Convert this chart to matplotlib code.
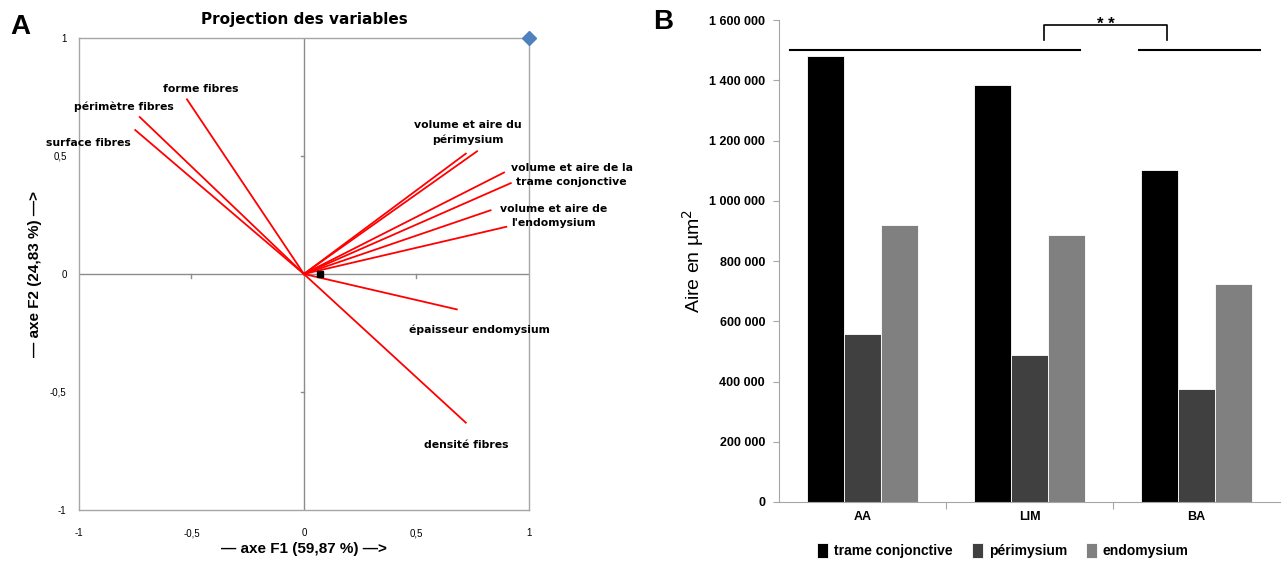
import matplotlib
matplotlib.use("Agg")
import matplotlib.pyplot as plt

# ---------------- Data : panel A (PCA correlation circle) ----------------
var_labels = ["forme fibres", "périmètre fibres", "surface fibres",
              "périmysium a", "périmysium b",
              "trame a", "trame b",
              "endomysium a", "endomysium b",
              "épaisseur endomysium", "densité fibres"]
var_f1 = [-0.52, -0.73, -0.75, 0.72, 0.77, 0.89, 0.92, 0.83, 0.90, 0.68, 0.72]
var_f2 = [0.74, 0.665, 0.61, 0.51, 0.52, 0.43, 0.385, 0.27, 0.20, -0.15, -0.63]
obs_point = (0.07, 0.0)
corner_point = (1.0, 1.0)
ticks_a = [-1, -0.5, 0, 0.5, 1]
tick_labels_a = ["-1", "-0,5", "0", "0,5", "1"]

# ---------------- Data : panel B (bar chart) ----------------
groups = ["AA", "LIM", "BA"]
series_names = ["trame conjonctive", "périmysium", "endomysium"]
trame = [1480000, 1385000, 1102000]
perimysium = [557000, 488000, 375000]
endomysium = [920000, 886000, 724000]
yticks_b = [0, 200000, 400000, 600000, 800000, 1000000, 1200000, 1400000, 1600000]
ytick_labels_b = ["0", "200 000", "400 000", "600 000", "800 000",
                  "1 000 000", "1 200 000", "1 400 000", "1 600 000"]

NARROW = ["Liberation Sans Narrow", "Liberation Sans", "DejaVu Sans"]
ARIAL = ["Liberation Sans", "DejaVu Sans"]
WIDE = ["DejaVu Sans"]

fig = plt.figure(figsize=(12.85, 5.61), dpi=100)

# =============== Panel A ===============
axA = fig.add_axes([0.0615, 0.0909, 0.350, 0.8414])
axA.set_xlim(-1, 1)
axA.set_ylim(-1, 1)
for s in axA.spines.values():
    s.set_color("#a6a6a6")
    s.set_linewidth(1.0)
axA.axhline(0, color="#8c8c8c", lw=1.0, zorder=1)
axA.axvline(0, color="#8c8c8c", lw=1.0, zorder=1)
for t in [-0.5, 0.5]:
    axA.plot([t, t], [0, -0.015], color="#8c8c8c", lw=1.0, zorder=1)
    axA.plot([0, -0.012], [t, t], color="#8c8c8c", lw=1.0, zorder=1)
axA.set_xticks(ticks_a)
axA.set_xticklabels(tick_labels_a)
axA.set_yticks(ticks_a)
axA.set_yticklabels(tick_labels_a)
axA.tick_params(length=0, labelsize=7)
axA.tick_params(axis="y", pad=9)
axA.tick_params(axis="x", pad=13)
for lab in axA.get_xticklabels() + axA.get_yticklabels():
    lab.set_family(NARROW)

for fx, fy in zip(var_f1, var_f2):
    axA.plot([0, fx], [0, fy], color="#ff0000", lw=1.3, zorder=3)
axA.plot([obs_point[0]], [obs_point[1]], marker="s", ms=5, color="black", zorder=4)
axA.plot([corner_point[0]], [corner_point[1]], marker="D", ms=7, color="#4f81bd",
         zorder=5, clip_on=False)

lab_kw = dict(fontsize=7.8, fontweight="bold", color="black", family=WIDE)
axA.text(-0.46, 0.785, "forme fibres", ha="center", va="center", **lab_kw)
axA.text(-0.80, 0.71, "périmètre fibres", ha="center", va="center", **lab_kw)
axA.text(-0.96, 0.555, "surface fibres", ha="center", va="center", **lab_kw)
axA.text(0.73, 0.60, "volume et aire du\npérimysium", ha="center", va="center",
         linespacing=1.45, **lab_kw)
axA.text(1.19, 0.42, "volume et aire de la\ntrame conjonctive", ha="center", va="center",
         linespacing=1.45, **lab_kw)
axA.text(1.11, 0.245, "volume et aire de\nl'endomysium", ha="center", va="center",
         linespacing=1.45, **lab_kw)
axA.text(0.78, -0.235, "épaisseur endomysium", ha="center", va="center", **lab_kw)
axA.text(0.72, -0.725, "densité fibres", ha="center", va="center", **lab_kw)

axA.set_title("Projection des variables", fontsize=11, fontweight="bold",
              family=WIDE, pad=10)
axA.set_ylabel("— axe F2 (24,83 %) —>", fontsize=11, fontweight="bold",
               family=ARIAL, labelpad=6)
axA.set_xlabel("— axe F1 (59,87 %) —>", fontsize=11, fontweight="bold",
               family=ARIAL, labelpad=3)
fig.text(0.008, 0.952, "A", fontsize=20, fontweight="bold", family=ARIAL,
         ha="left", va="center")

# =============== Panel B ===============
axB = fig.add_axes([0.6062, 0.1052, 0.390, 0.859])
axB.set_xlim(-0.5, 2.5)
axB.set_ylim(0, 1600000)
width = 0.222
colors = ["#000000", "#404040", "#808080"]
xs = list(range(len(groups)))
for i, (vals, col, name) in enumerate(zip([trame, perimysium, endomysium], colors, series_names)):
    axB.bar([x + (i - 1) * width for x in xs], vals, width=width, color=col,
            edgecolor="white", linewidth=0.6, label=name, zorder=2)

for side in ["top", "right"]:
    axB.spines[side].set_visible(False)
axB.spines["left"].set_color("#a6a6a6")
axB.spines["bottom"].set_color("#a6a6a6")
axB.set_yticks(yticks_b)
axB.set_yticklabels(ytick_labels_b)
axB.tick_params(axis="y", length=4, color="#a6a6a6", labelsize=9, pad=6)
axB.set_xticks([0.5, 1.5])
axB.set_xticklabels(["", ""])
axB.tick_params(axis="x", length=5, color="#a6a6a6")
for x, g in zip(xs, groups):
    axB.text(x, -50000, g, ha="center", va="center", fontsize=9,
             fontweight="bold", family=NARROW)
for lab in axB.get_yticklabels():
    lab.set_family(NARROW)
    lab.set_fontweight("bold")
axB.set_ylabel("Aire en µm$^2$", fontsize=14, family=ARIAL, labelpad=2)

# significance annotations
axB.plot([-0.434, 1.302], [1500000, 1500000], color="black", lw=1.5, clip_on=False)
axB.plot([1.656, 2.38], [1500000, 1500000], color="black", lw=1.5, clip_on=False)
axB.plot([1.087, 1.087, 1.823, 1.823], [1534000, 1583000, 1583000, 1534000],
         color="black", lw=1.2, clip_on=False)
axB.text(1.455, 1585000, "* *", ha="center", va="center", fontsize=12,
         fontweight="bold", family=ARIAL)

axB.legend(loc="center", bbox_to_anchor=(0.447, -0.1), ncol=3, frameon=False,
           prop=dict(family=NARROW, weight="bold", size=10),
           handlelength=0.8, handleheight=1.3, handletextpad=0.4, columnspacing=1.4)
fig.text(0.508, 0.96, "B", fontsize=20, fontweight="bold", family=ARIAL,
         ha="left", va="center")

fig.savefig("out.png", dpi=100)
